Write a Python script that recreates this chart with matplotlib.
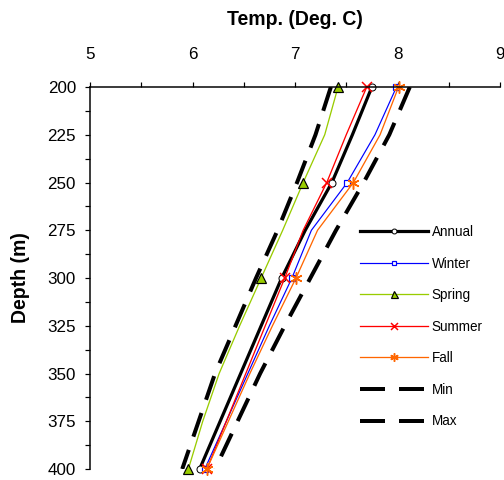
import numpy as np
import matplotlib
matplotlib.use("Agg")
import matplotlib.pyplot as plt
from matplotlib.ticker import MultipleLocator

plt.rcParams['font.family'] = ['Liberation Sans', 'DejaVu Sans']

# depth profile (m) and temperatures (deg C)
depth = [200, 225, 250, 275, 300, 325, 350, 375, 400]
annual = [7.75, 7.56, 7.36, 7.10, 6.87, 6.67, 6.47, 6.27, 6.07]
winter = [7.99, 7.78, 7.51, 7.16, 6.97, 6.75, 6.54, 6.33, 6.12]
spring = [7.42, 7.29, 7.08, 6.88, 6.67, 6.46, 6.26, 6.10, 5.96]
summer = [7.70, 7.50, 7.31, 7.08, 6.90, 6.71, 6.52, 6.33, 6.14]
fall = [8.01, 7.83, 7.57, 7.22, 7.01, 6.78, 6.56, 6.35, 6.14]
t_min = [7.35, 7.20, 7.02, 6.83, 6.62, 6.42, 6.22, 6.06, 5.90]
t_max = [8.12, 7.92, 7.67, 7.40, 7.15, 6.90, 6.66, 6.44, 6.22]

marker_idx = [0, 2, 4, 8]  # markers only at 200, 250, 300, 400 m

fig = plt.figure(figsize=(7, 480 / 72), dpi=72)
ax = fig.add_axes([90 / 504, 1 - 469 / 480, 410 / 504, 382 / 480])

ax.plot(annual, depth, color='black', lw=3.2, marker='o', ms=7, mfc='white',
        mec='black', mew=1, markevery=marker_idx, clip_on=False, label='Annual')
ax.plot(winter, depth, color='#0000FF', lw=1.2, marker='s', ms=6, mfc='white',
        mec='#0000FF', mew=1.2, markevery=marker_idx, clip_on=False, label='Winter')
ax.plot(spring, depth, color='#99CC00', lw=1.3, marker='^', ms=10, mfc='#99CC00',
        mec='black', mew=1.2, markevery=marker_idx, clip_on=False, label='Spring')
ax.plot(summer, depth, color='#FF0000', lw=1.3, marker='x', ms=10, mew=1.5,
        markevery=marker_idx, clip_on=False, label='Summer')
ax.plot(fall, depth, color='#FF6600', lw=1.3, marker=(6, 2, 0), ms=12, mew=1.5,
        markevery=marker_idx, clip_on=False, label='Fall')
ax.plot(t_min, depth, color='black', lw=4, dashes=(6.25, 3.5), label='Min')
ax.plot(t_max, depth, color='black', lw=4, dashes=(6.25, 3.5), label='Max')

ax.set_xlim(5, 9)
ax.set_ylim(400, 200)
ax.xaxis.set_major_locator(MultipleLocator(1))
ax.xaxis.set_minor_locator(MultipleLocator(0.5))
ax.yaxis.set_major_locator(MultipleLocator(25))
ax.yaxis.set_minor_locator(MultipleLocator(12.5))
ax.xaxis.tick_top()
ax.xaxis.set_label_position('top')
ax.tick_params(which='both', direction='out', length=5, width=1.2, labelsize=17)
ax.tick_params(axis='x', pad=20)
ax.tick_params(axis='y', pad=9)

for side in ['right', 'bottom']:
    ax.spines[side].set_visible(False)
for side in ['top', 'left']:
    ax.spines[side].set_linewidth(1.5)

ax.set_xlabel('Temp. (Deg. C)', fontsize=19.5, fontweight='bold', labelpad=22)
ax.set_ylabel('Depth (m)', fontsize=19.5, fontweight='bold', labelpad=17)

ax.legend(loc='upper left', bbox_to_anchor=(360 / 504, 1 - 225 / 480),
          bbox_transform=fig.transFigure, frameon=False, fontsize=13.5,
          handlelength=5.0, handletextpad=0.3, labelspacing=1.3,
          borderpad=0, borderaxespad=0, markerscale=0.7)

fig.savefig('out.png', dpi=72)
